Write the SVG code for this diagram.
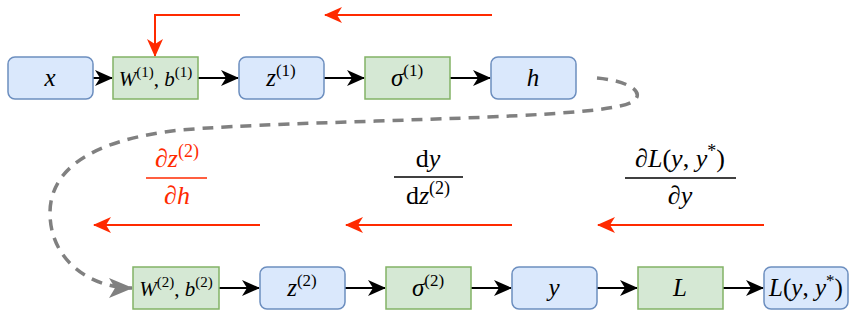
<svg xmlns="http://www.w3.org/2000/svg" width="855" height="315" viewBox="0 0 855 315">
<defs>
<marker id="ab" viewBox="0 0 18 16" refX="17" refY="8" markerWidth="18" markerHeight="16" markerUnits="userSpaceOnUse" orient="auto">
<path d="M0,0 L18,8 L0,16 L5,8 Z" fill="#000"/>
</marker>
<marker id="ar" viewBox="0 0 18 16" refX="17" refY="8" markerWidth="18" markerHeight="16" markerUnits="userSpaceOnUse" orient="auto">
<path d="M0,0 L18,8 L0,16 L5,8 Z" fill="#ff2a00"/>
</marker>
<marker id="ag" viewBox="0 0 24 20" refX="23" refY="10" markerWidth="24" markerHeight="20" markerUnits="userSpaceOnUse" orient="auto">
<path d="M0,0 L24,10 L0,20 L6,10 Z" fill="#808080"/>
</marker>
</defs>

<g id="connectors" fill="none">
<g stroke="#000" stroke-width="2" marker-end="url(#ab)">
<line x1="93" y1="78" x2="112" y2="78"/>
<line x1="198" y1="78" x2="238" y2="78"/>
<line x1="324" y1="78" x2="364" y2="78"/>
<line x1="450" y1="78" x2="490" y2="78"/>
<line x1="219" y1="288" x2="259" y2="288"/>
<line x1="345" y1="288" x2="385" y2="288"/>
<line x1="471" y1="288" x2="511" y2="288"/>
<line x1="597" y1="288" x2="637" y2="288"/>
<line x1="723" y1="288" x2="763" y2="288"/>
</g>
<path d="M597,78 C640,82 650,100 620,106 C560,120 300,120 180,130 C90,140 50,170 50,213 C50,260 90,288 132,288" stroke="#808080" stroke-width="3.5" stroke-dasharray="11,8" marker-end="url(#ag)"/>
<g stroke="#ff2a00" stroke-width="2" marker-end="url(#ar)">
<path d="M240,15 L155,15 L155,56"/>
<line x1="492" y1="15" x2="325" y2="15"/>
<line x1="260" y1="225" x2="94" y2="225"/>
<line x1="512" y1="225" x2="346" y2="225"/>
<line x1="764" y1="225" x2="598" y2="225"/>
</g>
</g>

<g font-family="Liberation Serif, serif" font-size="25" text-anchor="middle" stroke-width="1.5">
<g id="node-x"><rect fill="#dae8fc" stroke="#6c8ebf" x="8" y="57" width="85" height="42" rx="7"/><text x="50" y="86" font-style="italic">x</text></g>
<g id="node-w1"><rect fill="#d5e8d4" stroke="#82b366" x="113" y="57" width="85" height="42"/><text x="155.5" y="86" font-size="21"><tspan font-style="italic">W</tspan><tspan dy="-9" font-size="15">(1)</tspan><tspan dy="9">, </tspan><tspan font-style="italic">b</tspan><tspan dy="-9" font-size="15">(1)</tspan></text></g>
<g id="node-z1"><rect fill="#dae8fc" stroke="#6c8ebf" x="239" y="57" width="85" height="42" rx="7"/><text x="281" y="86"><tspan font-style="italic">z</tspan><tspan dy="-10" font-size="17">(1)</tspan></text></g>
<g id="node-s1"><rect fill="#d5e8d4" stroke="#82b366" x="365" y="57" width="85" height="42"/><text x="407" y="86"><tspan font-style="italic">σ</tspan><tspan dy="-10" font-size="17">(1)</tspan></text></g>
<g id="node-h"><rect fill="#dae8fc" stroke="#6c8ebf" x="491" y="57" width="85" height="42" rx="7"/><text x="533" y="86" font-style="italic">h</text></g>

<g id="node-w2"><rect fill="#d5e8d4" stroke="#82b366" x="133" y="267" width="86" height="42"/><text x="176" y="296" font-size="21"><tspan font-style="italic">W</tspan><tspan dy="-9" font-size="15">(2)</tspan><tspan dy="9">, </tspan><tspan font-style="italic">b</tspan><tspan dy="-9" font-size="15">(2)</tspan></text></g>
<g id="node-z2"><rect fill="#dae8fc" stroke="#6c8ebf" x="260" y="267" width="85" height="42" rx="7"/><text x="302" y="296"><tspan font-style="italic">z</tspan><tspan dy="-10" font-size="17">(2)</tspan></text></g>
<g id="node-s2"><rect fill="#d5e8d4" stroke="#82b366" x="386" y="267" width="85" height="42"/><text x="428" y="296"><tspan font-style="italic">σ</tspan><tspan dy="-10" font-size="17">(2)</tspan></text></g>
<g id="node-y"><rect fill="#dae8fc" stroke="#6c8ebf" x="512" y="267" width="85" height="42" rx="7"/><text x="554" y="296" font-style="italic">y</text></g>
<g id="node-L"><rect fill="#d5e8d4" stroke="#82b366" x="638" y="267" width="85" height="42"/><text x="680" y="296" font-style="italic">L</text></g>
<g id="node-Lyy"><rect fill="#dae8fc" stroke="#6c8ebf" x="764" y="267" width="84" height="42" rx="7"/><text x="806" y="296"><tspan font-style="italic">L</tspan>(<tspan font-style="italic">y</tspan>, <tspan font-style="italic">y</tspan><tspan dy="-10" font-size="17">*</tspan><tspan dy="10">)</tspan></text></g>

<g id="label-dzdh" fill="#ff2a00" font-size="26">
<text x="177" y="167">∂<tspan font-style="italic">z</tspan><tspan dy="-10" font-size="18">(2)</tspan></text>
<line x1="146" y1="178" x2="207" y2="178" stroke="#ff2a00"/>
<text x="177" y="204">∂<tspan font-style="italic">h</tspan></text>
</g>
<g id="label-dydz" font-size="26">
<text x="428" y="167">d<tspan font-style="italic">y</tspan></text>
<line x1="394" y1="177" x2="463" y2="177" stroke="#000"/>
<text x="428" y="204">d<tspan font-style="italic">z</tspan><tspan dy="-10" font-size="18">(2)</tspan></text>
</g>
<g id="label-dLdy" font-size="26">
<text x="680" y="167">∂<tspan font-style="italic">L</tspan>(<tspan font-style="italic">y</tspan>, <tspan font-style="italic">y</tspan><tspan dy="-10" font-size="18">*</tspan><tspan dy="10">)</tspan></text>
<line x1="625" y1="178" x2="736" y2="178" stroke="#000"/>
<text x="680" y="204">∂<tspan font-style="italic">y</tspan></text>
</g>
</g>
</svg>
